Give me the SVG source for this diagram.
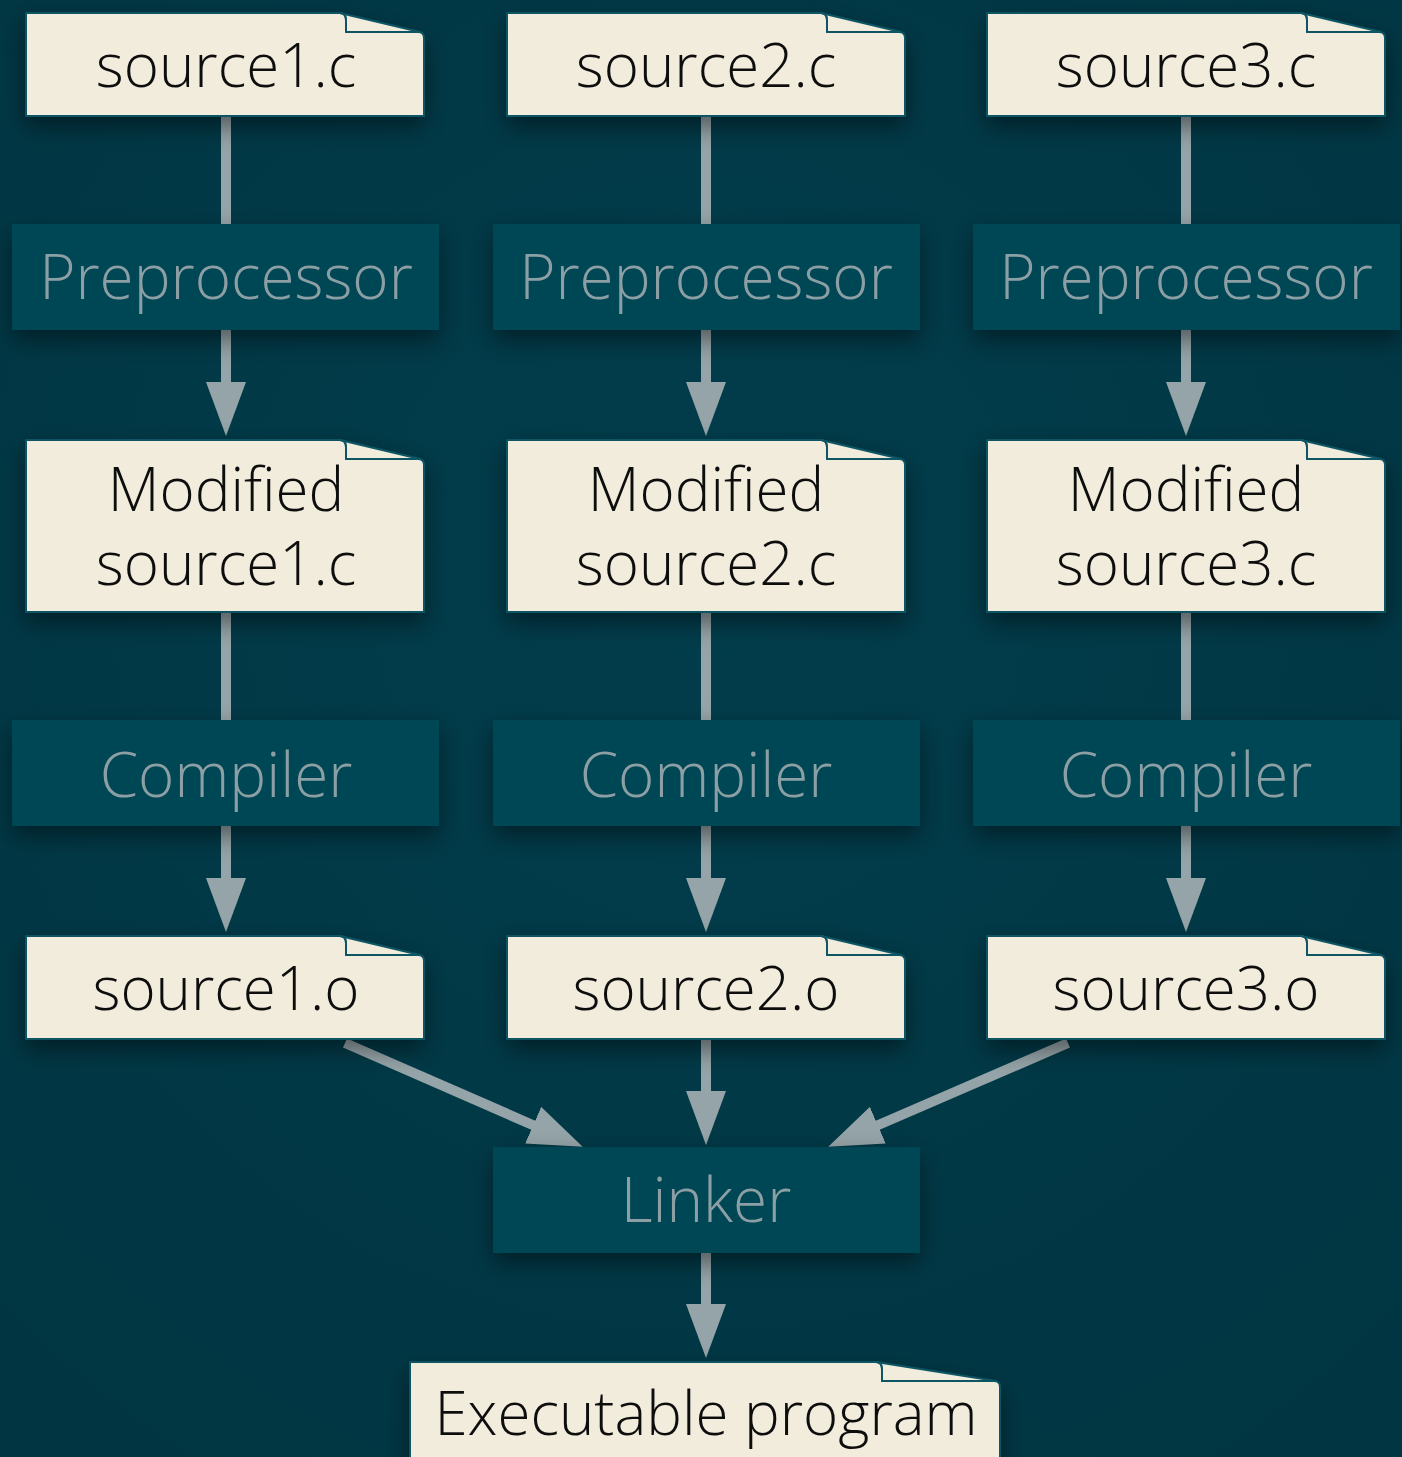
<svg xmlns="http://www.w3.org/2000/svg" width="1402" height="1457" viewBox="0 0 1402 1457">
<defs>
<radialGradient id="bg" cx="50%" cy="40%" r="75%">
<stop offset="0" stop-color="#023d4c"/>
<stop offset="1" stop-color="#013542"/>
</radialGradient>
<filter id="sh" x="-20%" y="-30%" width="140%" height="170%">
<feDropShadow dx="0" dy="10" stdDeviation="12" flood-color="#000" flood-opacity="0.45"/>
</filter>
<marker id="ah" markerUnits="userSpaceOnUse" viewBox="0 0 54 40" markerWidth="54" markerHeight="40" refX="2" refY="20" orient="auto">
<path d="M0,0 L54,20 L0,40 Z" fill="#95a4a8"/>
</marker>
<symbol id="doc" overflow="visible">
<path d="M0,0 H314 Q320,0 320,7 V19 H392 Q398,19 398,25 V103 H0 Z" class="docf"/>
<path d="M314,0 Q320,0 320,7 V19 H394 Z" class="docf"/>
</symbol>
</defs>
<style>
.docf{fill:#f2ecdc;stroke:#0c5565;stroke-width:2;stroke-linejoin:round}
.box{fill:#014656}
.dt{font-family:"Open Sans","Liberation Sans",sans-serif;font-weight:300;font-size:60px;fill:#111;text-anchor:middle}
.bt{font-family:"Open Sans","Liberation Sans",sans-serif;font-weight:300;font-size:62px;fill:#8c9fa4;text-anchor:middle}
.c{stroke:#95a4a8;stroke-width:10;fill:none}
</style>
<rect width="1402" height="1457" fill="url(#bg)"/>
<g id="connectors">
<line class="c" x1="226" y1="116" x2="226" y2="226"/>
<line class="c" x1="706" y1="116" x2="706" y2="226"/>
<line class="c" x1="1186" y1="116" x2="1186" y2="226"/>
<line class="c" x1="226" y1="328" x2="226" y2="384" marker-end="url(#ah)"/>
<line class="c" x1="706" y1="328" x2="706" y2="384" marker-end="url(#ah)"/>
<line class="c" x1="1186" y1="328" x2="1186" y2="384" marker-end="url(#ah)"/>
<line class="c" x1="226" y1="612" x2="226" y2="722"/>
<line class="c" x1="706" y1="612" x2="706" y2="722"/>
<line class="c" x1="1186" y1="612" x2="1186" y2="722"/>
<line class="c" x1="226" y1="824" x2="226" y2="880" marker-end="url(#ah)"/>
<line class="c" x1="706" y1="824" x2="706" y2="880" marker-end="url(#ah)"/>
<line class="c" x1="1186" y1="824" x2="1186" y2="880" marker-end="url(#ah)"/>
<line class="c" x1="345" y1="1043" x2="535" y2="1126" marker-end="url(#ah)"/>
<line class="c" x1="706" y1="1039" x2="706" y2="1093" marker-end="url(#ah)"/>
<line class="c" x1="1068" y1="1043" x2="876" y2="1126" marker-end="url(#ah)"/>
<line class="c" x1="706" y1="1251" x2="706" y2="1306" marker-end="url(#ah)"/>
</g>
<g id="src1" filter="url(#sh)"><use href="#doc" x="26" y="13"/><text class="dt" x="226" y="87">source1.c</text></g>
<g id="src2" filter="url(#sh)"><use href="#doc" x="507" y="13"/><text class="dt" x="706" y="87">source2.c</text></g>
<g id="src3" filter="url(#sh)"><use href="#doc" x="987" y="13"/><text class="dt" x="1186" y="87">source3.c</text></g>
<g id="pre1" filter="url(#sh)"><rect class="box" x="12" y="224" width="427" height="106"/><text class="bt" x="226" y="299">Preprocessor</text></g>
<g id="pre2" filter="url(#sh)"><rect class="box" x="493" y="224" width="427" height="106"/><text class="bt" x="706" y="299">Preprocessor</text></g>
<g id="pre3" filter="url(#sh)"><rect class="box" x="973" y="224" width="427" height="106"/><text class="bt" x="1186" y="299">Preprocessor</text></g>
<g id="mod1" filter="url(#sh)"><path class="docf" d="M26,440 H340 Q346,440 346,447 V459 H418 Q424,459 424,465 V612 H26 Z"/><path class="docf" d="M340,440 Q346,440 346,447 V459 H420 Z"/><text class="dt" x="226" y="511">Modified</text><text class="dt" x="226" y="585">source1.c</text></g>
<g id="mod2" filter="url(#sh)"><path class="docf" d="M507,440 H821 Q827,440 827,447 V459 H899 Q905,459 905,465 V612 H507 Z"/><path class="docf" d="M821,440 Q827,440 827,447 V459 H901 Z"/><text class="dt" x="706" y="511">Modified</text><text class="dt" x="706" y="585">source2.c</text></g>
<g id="mod3" filter="url(#sh)"><path class="docf" d="M987,440 H1301 Q1307,440 1307,447 V459 H1379 Q1385,459 1385,465 V612 H987 Z"/><path class="docf" d="M1301,440 Q1307,440 1307,447 V459 H1381 Z"/><text class="dt" x="1186" y="511">Modified</text><text class="dt" x="1186" y="585">source3.c</text></g>
<g id="comp1" filter="url(#sh)"><rect class="box" x="12" y="720" width="427" height="106"/><text class="bt" x="226" y="797">Compiler</text></g>
<g id="comp2" filter="url(#sh)"><rect class="box" x="493" y="720" width="427" height="106"/><text class="bt" x="706" y="797">Compiler</text></g>
<g id="comp3" filter="url(#sh)"><rect class="box" x="973" y="720" width="427" height="106"/><text class="bt" x="1186" y="797">Compiler</text></g>
<g id="obj1" filter="url(#sh)"><use href="#doc" x="26" y="936"/><text class="dt" x="226" y="1010">source1.o</text></g>
<g id="obj2" filter="url(#sh)"><use href="#doc" x="507" y="936"/><text class="dt" x="706" y="1010">source2.o</text></g>
<g id="obj3" filter="url(#sh)"><use href="#doc" x="987" y="936"/><text class="dt" x="1186" y="1010">source3.o</text></g>
<g id="linker" filter="url(#sh)"><rect class="box" x="493" y="1147" width="427" height="106"/><text class="bt" x="706" y="1222">Linker</text></g>
<g id="exe" filter="url(#sh)"><path class="docf" d="M410,1362 H876 Q882,1362 882,1369 V1381 H994 Q1000,1381 1000,1387 V1470 H410 Z"/><path class="docf" d="M876,1362 Q882,1362 882,1369 V1381 H996 Z"/><text class="dt" x="706" y="1435">Executable program</text></g>
</svg>
